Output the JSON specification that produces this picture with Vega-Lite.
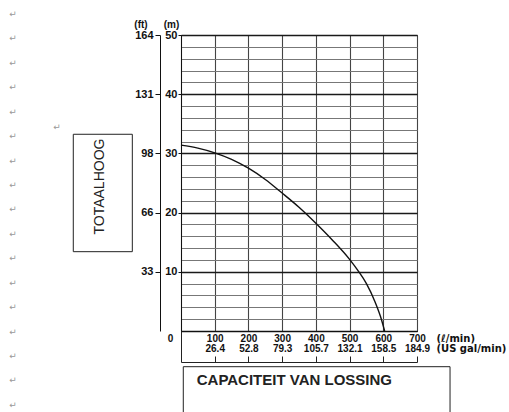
{
  "$schema": "https://vega.github.io/schema/vega-lite/v6.json",
  "width": 236,
  "height": 296,
  "autosize": {"type": "none"},
  "padding": {"left": 181, "top": 35, "right": 92, "bottom": 81},
  "background": "white",
  "config": {
    "view": {"stroke": "#333", "strokeWidth": 1},
    "axis": {"labelFont": "Liberation Sans", "titleFont": "Liberation Sans", "labelColor": "#111", "titleColor": "#111", "domainColor": "#111", "tickColor": "#111"}
  },
  "datasets": {
    "curve": [
      {"q": 0, "h": 31.4}, {"q": 50, "h": 30.9}, {"q": 100, "h": 30.1}, {"q": 150, "h": 29.0},
      {"q": 200, "h": 27.5}, {"q": 250, "h": 25.6}, {"q": 300, "h": 23.3}, {"q": 350, "h": 20.9},
      {"q": 400, "h": 18.2}, {"q": 450, "h": 15.3}, {"q": 500, "h": 12.1}, {"q": 525, "h": 10.2},
      {"q": 550, "h": 8.0}, {"q": 575, "h": 5.0}, {"q": 592, "h": 2.4}, {"q": 604, "h": 0}
    ],
    "para": [
      {"px": -498, "py": 53.55}, {"px": -498, "py": 49.49}, {"px": -498, "py": 45.27}, {"px": -498, "py": 41.22},
      {"px": -498, "py": 36.99}, {"px": -498, "py": 32.94}, {"px": -498, "py": 28.72}, {"px": -498, "py": 24.66},
      {"px": -498, "py": 20.61}, {"px": -498, "py": 16.39}, {"px": -498, "py": 12.33}, {"px": -498, "py": 8.11},
      {"px": -498, "py": 4.05}, {"px": -498, "py": -0.17}, {"px": -498, "py": -4.22}, {"px": -498, "py": -8.28},
      {"px": -498, "py": -12.5}, {"px": -368, "py": 34.46}
    ]
  },
  "layer": [
    {
      "data": {"name": "curve"},
      "mark": {"type": "line", "color": "#111", "strokeWidth": 1.4, "interpolate": "monotone"},
      "encoding": {
        "x": {
          "field": "q", "type": "quantitative",
          "scale": {"domain": [0, 700], "nice": false, "zero": false},
          "axis": {
            "orient": "bottom",
            "values": [0, 100, 200, 300, 400, 500, 600, 700],
            "grid": true,
            "gridColor": "#444",
            "gridWidth": 1.1,
            "tickSize": 0,
            "labelPadding": 2,
            "labelBaseline": "top",
            "labelFontSize": 10,
            "labelFontWeight": "bold",
            "labelLineHeight": 10,
            "labelFlush": false,
            "labelOverlap": false,
            "labelExpr": "datum.value == 0 ? '0' : [datum.label, format(datum.value * 0.26417, '.1f')]",
            "labelOffset": {"condition": {"test": "datum.value == 0", "value": -11}, "value": 0},
            "title": ["(ℓ/min)", "(US gal/min)"],
            "titleFont": "DejaVu Sans",
            "titleFontSize": 10,
            "titleFontWeight": "bold",
            "titleLineHeight": 10,
            "titleAlign": "left",
            "titleBaseline": "top",
            "titleAnchor": "start",
            "titleX": 255,
            "titleY": 2
          }
        },
        "y": {
          "field": "h", "type": "quantitative",
          "scale": {"domain": [0, 50], "nice": false, "zero": false},
          "axis": {
            "orient": "left",
            "values": [0, 2, 4, 6, 8, 10, 12, 14, 16, 18, 20, 22, 24, 26, 28, 30, 32, 34, 36, 38, 40, 42, 44, 46, 48, 50],
            "grid": true,
            "gridColor": {"condition": {"test": "datum.value % 10 == 0", "value": "#1a1a1a"}, "value": "#777"},
            "gridWidth": {"condition": {"test": "datum.value % 10 == 0", "value": 1.4}, "value": 1},
            "tickSize": 3,
            "tickOpacity": {"condition": {"test": "datum.value % 10 == 0 && datum.value > 0", "value": 1}, "value": 0},
            "labelPadding": 1,
            "labelFontSize": 11,
            "labelFontWeight": "bold",
            "labelBaseline": "middle",
            "labelExpr": "datum.value % 10 == 0 && datum.value > 0 ? datum.label : ''",
            "title": "(m)",
            "titleAngle": 0,
            "titleFontSize": 10,
            "titleFontWeight": "bold",
            "titleAlign": "center",
            "titleBaseline": "middle",
            "titleX": -10,
            "titleY": -11
          }
        }
      }
    },
    {
      "data": {"name": "para"},
      "mark": {"type": "text", "text": "↵", "fontSize": 9, "color": "#999", "font": "DejaVu Sans"},
      "encoding": {
        "x": {
          "field": "px", "type": "quantitative",
          "scale": {"domain": [0, 700], "nice": false, "zero": false},
          "axis": {
            "orient": "bottom",
            "offset": 31,
            "values": [0, 100, 200, 300, 400, 500, 600, 700],
            "labels": false,
            "grid": false,
            "tickSize": {"condition": {"test": "datum.value == 0", "value": -31}, "value": -6},
            "tickColor": "#222",
            "domainColor": "#222",
            "title": null
          }
        },
        "y": {
          "field": "py", "type": "quantitative",
          "scale": {"domain": [0, 50], "nice": false, "zero": false},
          "axis": {
            "orient": "left",
            "offset": 21,
            "values": [10, 20, 30, 40, 50],
            "grid": false,
            "tickSize": 5,
            "labelPadding": 2,
            "labelFontSize": 11,
            "labelFontWeight": "bold",
            "labelBaseline": "middle",
            "labelExpr": "format(round(datum.value * 3.2808), 'd')",
            "title": "(ft)",
            "titleAngle": 0,
            "titleFontSize": 10,
            "titleFontWeight": "bold",
            "titleAlign": "center",
            "titleBaseline": "middle",
            "titleX": -19.5,
            "titleY": -11
          }
        }
      }
    },
    {
      "data": {"values": [{}]},
      "mark": {"type": "rect", "filled": false, "stroke": "#222", "strokeWidth": 1},
      "encoding": {
        "x": {"datum": 6.8, "type": "quantitative", "scale": {"domain": [0, 700], "nice": false, "zero": false}, "axis": null},
        "x2": {"datum": 798},
        "y": {"datum": -6.03, "type": "quantitative", "scale": {"domain": [0, 50], "nice": false, "zero": false}, "axis": null},
        "y2": {"datum": -15}
      }
    },
    {
      "data": {"values": [{}]},
      "mark": {"type": "rect", "filled": false, "stroke": "#222", "strokeWidth": 1},
      "encoding": {
        "x": {"datum": -319.5, "type": "quantitative", "scale": {"domain": [0, 700], "nice": false, "zero": false}, "axis": null},
        "x2": {"datum": -144.4},
        "y": {"datum": 33.23, "type": "quantitative", "scale": {"domain": [0, 50], "nice": false, "zero": false}, "axis": null},
        "y2": {"datum": 13.4}
      }
    },
    {
      "data": {"values": [{}]},
      "mark": {"type": "text", "text": "CAPACITEIT VAN LOSSING", "font": "Liberation Sans", "fontSize": 15, "fontWeight": "bold", "align": "left", "baseline": "middle", "color": "#222"},
      "encoding": {
        "x": {"datum": 46.6, "type": "quantitative", "scale": {"domain": [0, 700], "nice": false, "zero": false}, "axis": null},
        "y": {"datum": -8.28, "type": "quantitative", "scale": {"domain": [0, 50], "nice": false, "zero": false}, "axis": null}
      }
    },
    {
      "data": {"values": [{}]},
      "mark": {"type": "text", "text": "TOTAALHOOG", "font": "Liberation Sans", "fontSize": 14, "angle": 270, "align": "center", "baseline": "middle", "color": "#222"},
      "encoding": {
        "x": {"datum": -240.3, "type": "quantitative", "scale": {"domain": [0, 700], "nice": false, "zero": false}, "axis": null},
        "y": {"datum": 24.4, "type": "quantitative", "scale": {"domain": [0, 50], "nice": false, "zero": false}, "axis": null}
      }
    }
  ],
  "resolve": {"axis": {"x": "independent", "y": "independent"}}
}
